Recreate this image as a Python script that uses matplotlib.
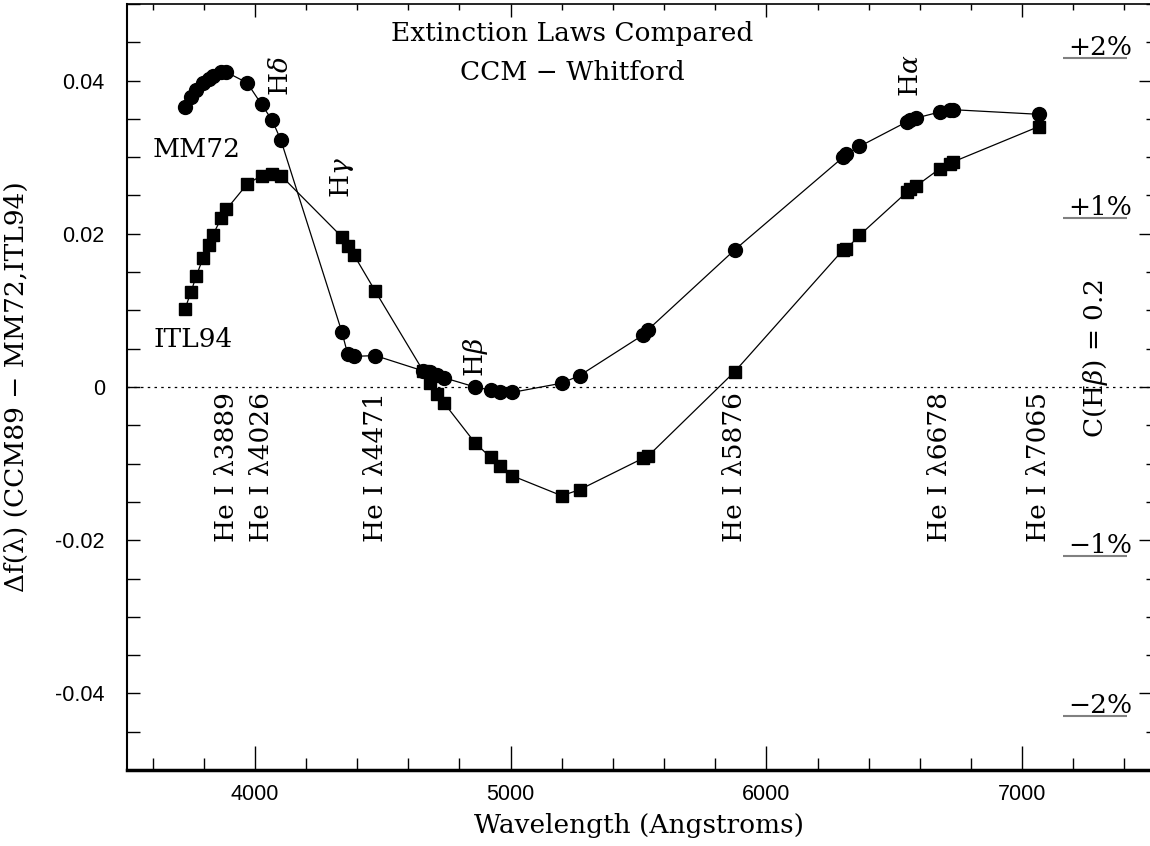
"""Extinction laws compared: CCM89 minus MM72 / ITL94 as a function of wavelength."""

import matplotlib
matplotlib.use("Agg")
import matplotlib.pyplot as plt
from matplotlib.ticker import MultipleLocator, FuncFormatter, NullFormatter

# emission-line wavelengths (Angstroms) where the difference was evaluated
wave = [3727, 3750, 3771, 3798, 3819, 3835, 3868, 3889, 3970, 4026, 4068, 4102,
	4340, 4363, 4388, 4471, 4658, 4686, 4711, 4740, 4861, 4922, 4959, 5007,
	5200, 5270, 5518, 5538, 5876, 6300, 6312, 6364, 6548, 6563, 6584, 6678,
	6717, 6731, 7065]

# CCM89 - MM72
mm72 = [0.0365, 0.0378, 0.0388, 0.0397, 0.0402, 0.0406, 0.0411, 0.0411, 0.0397, 0.0369, 0.0348, 0.0322,
	0.0072, 0.0043, 0.0040, 0.0041, 0.0021, 0.0019, 0.0016, 0.0012, 0.0000, -0.0004, -0.0006, -0.0007,
	0.0005, 0.0015, 0.0068, 0.0075, 0.0179, 0.0300, 0.0304, 0.0314, 0.0346, 0.0349, 0.0351, 0.0359,
	0.0361, 0.0362, 0.0356]

# CCM89 - ITL94
itl94 = [0.0102, 0.0124, 0.0145, 0.0169, 0.0186, 0.0198, 0.0220, 0.0232, 0.0265, 0.0276, 0.0278, 0.0276,
	0.0196, 0.0184, 0.0172, 0.0125, 0.0021, 0.0005, -0.0009, -0.0021, -0.0073, -0.0092, -0.0103, -0.0116,
	-0.0142, -0.0134, -0.0093, -0.0090, 0.0020, 0.0179, 0.0180, 0.0198, 0.0254, 0.0258, 0.0262, 0.0285,
	0.0291, 0.0294, 0.0340]

# hydrogen lines marked above the curves
h_names = [r"H$\delta$", r"H$\gamma$", r"H$\beta$", r"H$\alpha$"]
h_waves = [4102, 4340, 4861, 6563]
h_ypos = [0.0406, 0.0274, 0.0039, 0.0406]

# He I lines marked below the zero line
hei_waves = [3889, 4026, 4471, 5876, 6678, 7065]

# percent-error levels for C(Hbeta) = 0.2
pct_labels = ["+2%", "+1%", "\u22121%", "\u22122%"]
pct_levels = [0.0430, 0.0220, -0.0221, -0.0430]

SERIF = "DejaVu Serif"
FS = 19


def y_fmt(v, _pos):
	if abs(v) < 1e-9:
		return "0"
	return "%.2f" % v


def main() -> None:
	plt.rcParams["font.family"] = ["Liberation Sans", "DejaVu Sans"]
	plt.rcParams["mathtext.fontset"] = "dejavuserif"
	plt.rcParams["axes.unicode_minus"] = False

	fig = plt.figure(figsize=(11.5, 8.46), dpi=100)
	ax = fig.add_axes([127 / 1150, 76 / 846, 1 - 127 / 1150, 766 / 846])
	ax.set_xlim(3500, 7500)
	ax.set_ylim(-0.05, 0.05)

	ax.axhline(0, color="black", lw=0.9, ls=(0, (2, 3.4)), zorder=1)

	ax.plot(wave, mm72, color="black", lw=0.9, marker="o", ms=10, zorder=3)
	ax.plot(wave, itl94, color="black", lw=0.9, marker="s", ms=8, zorder=3)

	# axes and ticks
	ax.spines["right"].set_visible(False)
	ax.spines["top"].set_linewidth(1.2)
	ax.spines["left"].set_linewidth(1.5)
	ax.spines["bottom"].set_linewidth(2.5)

	ax.xaxis.set_major_locator(MultipleLocator(1000))
	ax.xaxis.set_minor_locator(MultipleLocator(200))
	ax.yaxis.set_major_locator(MultipleLocator(0.02))
	ax.yaxis.set_minor_locator(MultipleLocator(0.005))
	ax.yaxis.set_major_formatter(FuncFormatter(y_fmt))
	ax.tick_params(axis="x", which="both", direction="in", top=False, width=1, pad=10, labelsize=15.5)
	ax.tick_params(axis="x", which="major", length=17)
	ax.tick_params(axis="x", which="minor", length=9)
	ax.tick_params(axis="y", which="both", direction="in", right=False, length=9.5, width=1, pad=16, labelsize=15.5)

	top = ax.secondary_xaxis("top")
	top.xaxis.set_major_locator(MultipleLocator(1000))
	top.xaxis.set_minor_locator(MultipleLocator(200))
	top.xaxis.set_major_formatter(NullFormatter())
	top.tick_params(which="both", direction="in", width=1)
	top.tick_params(which="major", length=9.5)
	top.tick_params(which="minor", length=4.5)
	top.spines["top"].set_visible(False)

	right = ax.secondary_yaxis("right")
	right.yaxis.set_major_locator(MultipleLocator(0.02))
	right.yaxis.set_minor_locator(MultipleLocator(0.005))
	right.yaxis.set_major_formatter(NullFormatter())
	right.tick_params(which="both", direction="in", width=1)
	right.tick_params(which="major", length=8)
	right.tick_params(which="minor", length=3)
	right.spines["right"].set_visible(False)

	ax.set_xlabel("Wavelength (Angstroms)", family=SERIF, fontsize=FS, labelpad=6)
	ax.set_ylabel("\u0394f(\u03bb) (CCM89 \u2212 MM72,ITL94)", family=SERIF, fontsize=FS)
	ax.yaxis.set_label_coords(-0.096, 0.5)

	# titles and curve names
	ax.text(5240, 0.0461, "Extinction Laws Compared", family=SERIF, fontsize=FS, ha="center", va="center")
	ax.text(5240, 0.0411, "CCM \u2212 Whitford", family=SERIF, fontsize=FS, ha="center", va="center")
	ax.text(3602, 0.0310, "MM72", family=SERIF, fontsize=FS, ha="left", va="center")
	ax.text(3602, 0.0062, "ITL94", family=SERIF, fontsize=FS, ha="left", va="center")

	for name, w, y in zip(h_names, h_waves, h_ypos):
		ax.text(w, y, name, family=SERIF, fontsize=FS, rotation=90, ha="center", va="center")

	for w in hei_waves:
		ax.text(w, -0.0007, "He I \u03bb%d" % w, family=SERIF, fontsize=FS, rotation=90, ha="center", va="top")

	ax.text(7285, 0.0037, r"C(H$\beta$) = 0.2", family=SERIF, fontsize=FS, rotation=90, ha="center", va="center")

	for lab, lvl in zip(pct_labels, pct_levels):
		ax.plot([7160, 7410], [lvl, lvl], color="0.5", lw=1.5, solid_capstyle="butt")
		ax.text(7430, lvl + 0.0004, lab, family=SERIF, fontsize=FS, ha="right", va="baseline")

	fig.savefig("out.png", dpi=100)
	plt.close(fig)


if __name__ == "__main__":
	main()
